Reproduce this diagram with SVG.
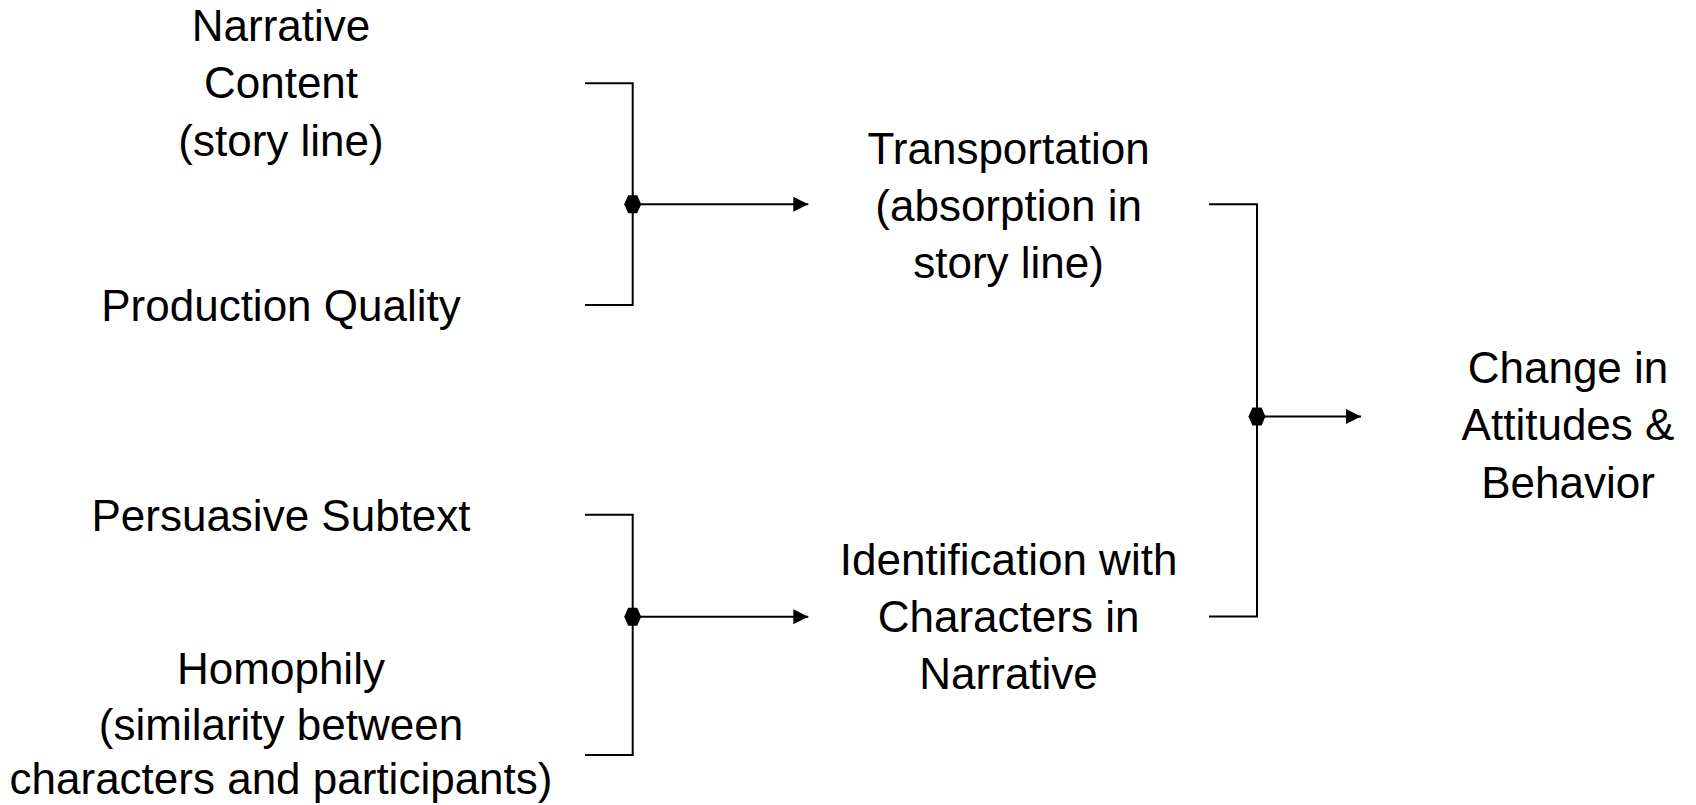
<svg xmlns="http://www.w3.org/2000/svg" width="1696" height="805" viewBox="0 0 1696 805">
  <defs>
    <style>
      .lbl { font-family: "Liberation Sans", Arial, sans-serif; font-size: 44px; fill: #000; text-anchor: middle; }
      .ln { fill: none; stroke: #000; stroke-width: 2; }
      .dot { fill: #000; }
    </style>
    <marker id="arrow" markerUnits="userSpaceOnUse" markerWidth="16" markerHeight="16" refX="15" refY="7.5" orient="auto">
      <path d="M0,0 L15,7.5 L0,15 Z" fill="#000"/>
    </marker>
  </defs>
  <rect width="1696" height="805" fill="#fff"/>

  <g id="connectors">
    <path class="ln" d="M585,83.3 H632.7 V305 H585"/>
    <path class="ln" d="M632.7,204.3 H808.3" marker-end="url(#arrow)"/>
    <polygon class="dot" points="624.2,204.3 628.2,195.3 637.2,195.3 641.2,204.3 637.2,213.3 628.2,213.3"/>

    <path class="ln" d="M585,514.7 H632.7 V755 H585"/>
    <path class="ln" d="M632.7,616.7 H808.3" marker-end="url(#arrow)"/>
    <polygon class="dot" points="624.2,616.7 628.2,607.7 637.2,607.7 641.2,616.7 637.2,625.7 628.2,625.7"/>

    <path class="ln" d="M1209,204.3 H1257 V616.5 H1209"/>
    <path class="ln" d="M1257,416.5 H1361" marker-end="url(#arrow)"/>
    <polygon class="dot" points="1248.5,416.5 1252.5,407.5 1261.5,407.5 1265.5,416.5 1261.5,425.5 1252.5,425.5"/>
  </g>

  <g id="narrative-content">
    <text class="lbl" x="281" y="41">Narrative</text>
    <text class="lbl" x="281" y="98.3">Content</text>
    <text class="lbl" x="281" y="155.6">(story line)</text>
  </g>
  <g id="production-quality">
    <text class="lbl" x="281" y="321">Production Quality</text>
  </g>
  <g id="persuasive-subtext">
    <text class="lbl" x="281" y="530.5">Persuasive Subtext</text>
  </g>
  <g id="homophily">
    <text class="lbl" x="281" y="684">Homophily</text>
    <text class="lbl" x="281" y="740">(similarity between</text>
    <text class="lbl" x="281" y="794">characters and participants)</text>
  </g>
  <g id="transportation">
    <text class="lbl" x="1008.6" y="163.5">Transportation</text>
    <text class="lbl" x="1008.6" y="220.8">(absorption in</text>
    <text class="lbl" x="1008.6" y="278.1">story line)</text>
  </g>
  <g id="identification">
    <text class="lbl" x="1008.6" y="574.5">Identification with</text>
    <text class="lbl" x="1008.6" y="631.8">Characters in</text>
    <text class="lbl" x="1008.6" y="689.1">Narrative</text>
  </g>
  <g id="change">
    <text class="lbl" x="1568" y="383">Change in</text>
    <text class="lbl" x="1568" y="440.3">Attitudes &amp;</text>
    <text class="lbl" x="1568" y="497.6">Behavior</text>
  </g>
</svg>
